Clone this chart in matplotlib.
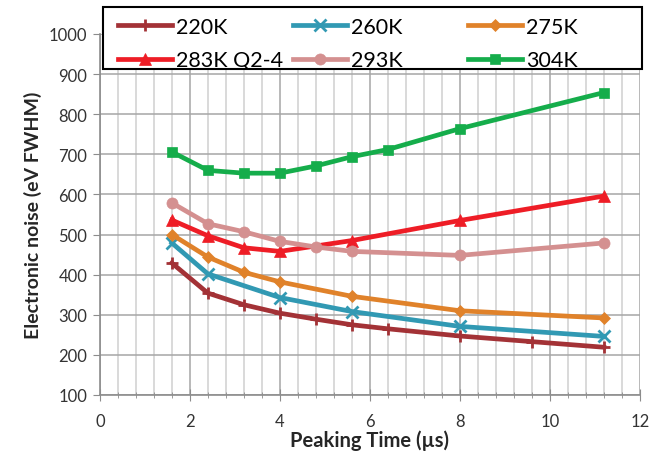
import matplotlib
matplotlib.use("Agg")

import matplotlib.pyplot as plt
from matplotlib.patches import Rectangle
from matplotlib.ticker import MultipleLocator

plt.rcParams["font.family"] = ["Lato", "DejaVu Sans"]

# --- Data -------------------------------------------------------------------
x_220 = [1.6, 2.4, 3.2, 4.0, 4.8, 5.6, 6.4, 8.0, 9.6, 11.2]
y_220 = [429, 354, 325, 304, 289, 275, 265, 247, 233, 219]

x_260 = [1.6, 2.4, 4.0, 5.6, 8.0, 11.2]
y_260 = [479, 402, 343, 308, 271, 246]

x_275 = [1.6, 2.4, 3.2, 4.0, 5.6, 8.0, 11.2]
y_275 = [500, 444, 406, 382, 346, 310, 292]

x_283 = [1.6, 2.4, 3.2, 4.0, 5.6, 8.0, 11.2]
y_283 = [536, 497, 467, 458, 485, 535, 596]

x_293 = [1.6, 2.4, 3.2, 4.0, 4.8, 5.6, 8.0, 11.2]
y_293 = [579, 527, 507, 483, 469, 458, 448, 479]

x_304 = [1.6, 2.4, 3.2, 4.0, 4.8, 5.6, 6.4, 8.0, 11.2]
y_304 = [706, 660, 653, 653, 671, 694, 712, 764, 854]

series = [
    ("220K", x_220, y_220, "#A33236", "+", 9),
    ("260K", x_260, y_260, "#3199B3", "x", 8),
    ("275K", x_275, y_275, "#E0822A", "D", 6),
    ("283K Q2-4", x_283, y_283, "#EE1D26", "^", 8),
    ("293K", x_293, y_293, "#D49090", "o", 8),
    ("304K", x_304, y_304, "#15AD4B", "s", 7.5),
]

W, H = 670, 464
fig = plt.figure(figsize=(W / 100, H / 100), dpi=100)
ax = fig.add_axes([0.149, 0.1466, 0.806, 0.778])

handles = []
for label, xs, ys, color, marker, ms in series:
    h, = ax.plot(xs, ys, color=color, lw=3.4, marker=marker, markersize=ms,
                 markeredgewidth=2 if marker in "+x" else 0.5,
                 markeredgecolor=color, label=label, zorder=3)
    handles.append(h)

ax.set_xlim(0, 12)
ax.set_ylim(100, 1000)
ax.xaxis.set_major_locator(MultipleLocator(2))
ax.xaxis.set_minor_locator(MultipleLocator(0.4))
ax.yaxis.set_major_locator(MultipleLocator(100))

ax.grid(which="major", color="#A6A6A6", lw=1.1, zorder=0)
ax.grid(which="minor", axis="x", color="#D0D0D0", lw=1.1, zorder=0)

for side in ["top", "right"]:
    ax.spines[side].set_visible(False)
for side in ["left", "bottom"]:
    ax.spines[side].set_color("#8C8C8C")
    ax.spines[side].set_linewidth(1.2)

ax.tick_params(axis="x", which="both", direction="inout", color="#8C8C8C",
               labelsize=12, labelcolor="#333333", pad=9)
ax.tick_params(axis="x", which="major", length=8)
ax.tick_params(axis="x", which="minor", length=5)
ax.tick_params(axis="y", direction="out", length=5, color="#8C8C8C",
               labelsize=12, labelcolor="#333333", pad=4)

ax.set_xlabel("Peaking Time (µs)", fontsize=14.5, fontweight="bold",
              color="#262626", labelpad=0)
ax.set_ylabel("Electronic noise (eV FWHM)", fontsize=14, fontweight="bold",
              color="#262626", labelpad=5)

# Excel-style legend box: one frame, three equal-width columns
fig.patches.append(Rectangle((103 / W, 1 - 70 / H), 539 / W, 62 / H,
                             transform=fig.transFigure, facecolor="white",
                             edgecolor="black", lw=1.5, zorder=2))
for j, x0 in enumerate([118, 293, 468]):
    idx = [j, j + 3]
    fig.legend([handles[i] for i in idx], [series[i][0] for i in idx],
               loc="upper left", bbox_to_anchor=(x0 / W, 1 - 18 / H),
               fontsize=15.5, frameon=False, handlelength=2.5,
               handletextpad=0.2, borderaxespad=0, borderpad=0,
               labelspacing=0.62)

fig.savefig("out.png", dpi=100)
